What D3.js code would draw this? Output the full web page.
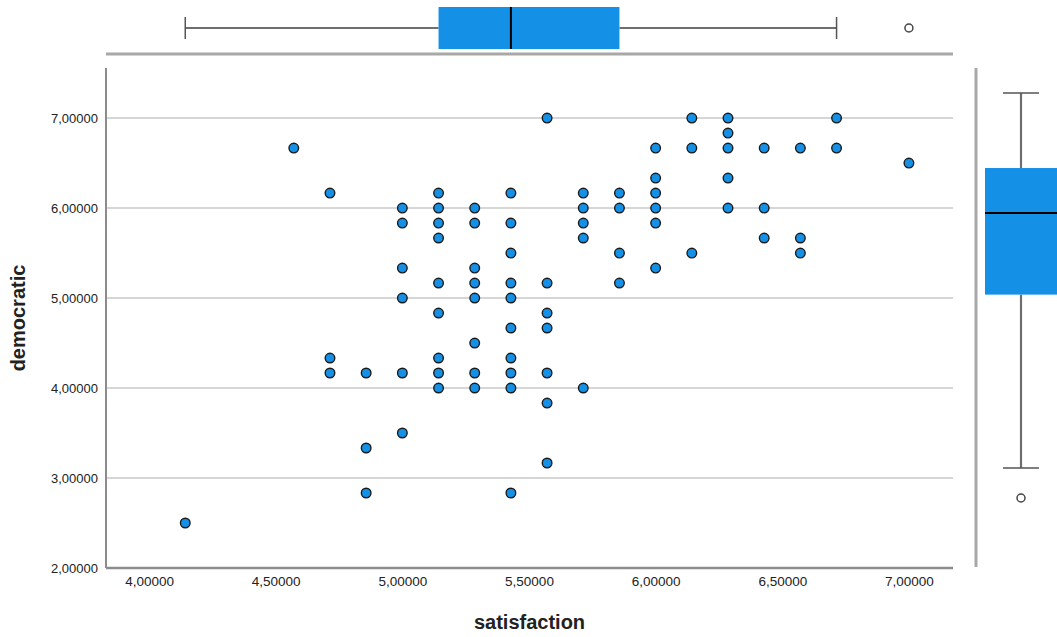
<!DOCTYPE html>
<html>
<head>
<meta charset="utf-8">
<script src="https://cdn.jsdelivr.net/npm/d3@7"></script>
<style>
  html, body { margin: 0; padding: 0; background: #fff; }
  svg { display: block; }
  text { font-family: "Liberation Sans", Arial, sans-serif; }
</style>
</head>
<body>
<svg id="chart" width="1057" height="637"></svg>
<script>
// ---- data ----
const satisfaction = [
  4.1429,
  4.5714,
  4.7143, 4.7143, 4.7143,
  4.8571, 4.8571, 4.8571,
  5.0, 5.0, 5.0, 5.0, 5.0, 5.0,
  5.1429, 5.1429, 5.1429, 5.1429, 5.1429, 5.1429, 5.1429, 5.1429, 5.1429,
  5.2857, 5.2857, 5.2857, 5.2857, 5.2857, 5.2857, 5.2857, 5.2857,
  5.4286, 5.4286, 5.4286, 5.4286, 5.4286, 5.4286, 5.4286, 5.4286, 5.4286, 5.4286,
  5.5714, 5.5714, 5.5714, 5.5714, 5.5714, 5.5714, 5.5714,
  5.7143, 5.7143, 5.7143, 5.7143, 5.7143,
  5.8571, 5.8571, 5.8571, 5.8571,
  6.0, 6.0, 6.0, 6.0, 6.0, 6.0,
  6.1429, 6.1429, 6.1429,
  6.2857, 6.2857, 6.2857, 6.2857, 6.2857,
  6.4286, 6.4286, 6.4286,
  6.5714, 6.5714, 6.5714,
  6.7143, 6.7143,
  7.0
];
const democratic = [
  2.5,
  6.6667,
  6.1667, 4.3333, 4.1667,
  4.1667, 3.3333, 2.8333,
  6.0, 5.8333, 5.3333, 5.0, 4.1667, 3.5,
  6.1667, 6.0, 5.8333, 5.6667, 5.1667, 4.8333, 4.3333, 4.1667, 4.0,
  6.0, 5.8333, 5.3333, 5.1667, 5.0, 4.5, 4.1667, 4.0,
  6.1667, 5.8333, 5.5, 5.1667, 5.0, 4.6667, 4.3333, 4.1667, 4.0, 2.8333,
  7.0, 5.1667, 4.8333, 4.6667, 4.1667, 3.8333, 3.1667,
  6.1667, 6.0, 5.8333, 5.6667, 4.0,
  6.1667, 6.0, 5.5, 5.1667,
  6.6667, 6.3333, 6.1667, 6.0, 5.8333, 5.3333,
  7.0, 6.6667, 5.5,
  7.0, 6.8333, 6.6667, 6.3333, 6.0,
  6.6667, 6.0, 5.6667,
  6.6667, 5.6667, 5.5,
  7.0, 6.6667,
  6.5
];
const xTicks = [4.0, 4.5, 5.0, 5.5, 6.0, 6.5, 7.0];
const yTicks = [2.0, 3.0, 4.0, 5.0, 6.0, 7.0];
// box plot summaries [min whisker, Q1, median, Q3, max whisker]
const satisfactionBox = [4.1429, 5.1429, 5.4286, 5.8571, 6.7143];
const satisfactionOutliers = [7.0];
const democraticBox = [2.8333, 4.76, 5.6667, 6.1667, 7.0];
const democraticOutliers = [2.5];
const xTitle = "satisfaction";
const yTitle = "democratic";

// ---- drawing ----
(function () {
const svg = d3.select("#chart");
const fmt = v => d3.format(".5f")(v).replace(".", ",");

const pL = 106, pR = 953, pT = 68, pB = 568;
const x = d3.scaleLinear().domain([3.83, 7.174]).range([pL, pR]);
const y = d3.scaleLinear().domain([2, 7.556]).range([pB, pT]);
const yR = d3.scaleLinear().domain([2, 7.556]).range([pB - 25, pT - 25]);

const blue = "#1490e6";
const gridColor = "#c8c8c8";
const axisColor = "#8c8c8c";

// gridlines
svg.append("g").selectAll("line")
  .data(yTicks.filter(d => d > 2))
  .join("line")
  .attr("x1", pL).attr("x2", pR)
  .attr("y1", d => y(d)).attr("y2", d => y(d))
  .attr("stroke", gridColor).attr("stroke-width", 1.5);

// y axis
const yAxis = d3.axisLeft(y).tickValues(yTicks).tickFormat(fmt).tickSize(0).tickPadding(8);
const gy = svg.append("g").attr("transform", `translate(${pL},0)`).call(yAxis);
gy.select(".domain").attr("stroke", axisColor).attr("stroke-width", 2)
  .attr("d", `M0,${pT}V${pB}`);
gy.selectAll("text").attr("font-size", 13).attr("fill", "#222")
  .attr("font-family", "'Liberation Sans', Arial, sans-serif");

// x axis
const xAxis = d3.axisBottom(x).tickValues(xTicks).tickFormat(fmt).tickSize(0).tickPadding(8);
const gx = svg.append("g").attr("transform", `translate(0,${pB})`).call(xAxis);
gx.select(".domain").attr("stroke", axisColor).attr("stroke-width", 2.5)
  .attr("d", `M${pL},0H${pR}`);
gx.selectAll("text").attr("font-size", 13.5).attr("fill", "#222")
  .attr("font-family", "'Liberation Sans', Arial, sans-serif");

// axis titles
svg.append("text")
  .attr("x", (pL + pR) / 2).attr("y", 629)
  .attr("text-anchor", "middle")
  .attr("font-size", 20).attr("font-weight", "bold").attr("fill", "#222")
  .text(xTitle);
svg.append("text")
  .attr("transform", `translate(25,${(pT + pB) / 2}) rotate(-90)`)
  .attr("text-anchor", "middle")
  .attr("font-size", 20).attr("font-weight", "bold").attr("fill", "#222")
  .text(yTitle);

// points
svg.append("g").selectAll("circle")
  .data(satisfaction.map((s, i) => [s, democratic[i]]))
  .join("circle")
  .attr("cx", d => x(d[0])).attr("cy", d => y(d[1]))
  .attr("r", 4.8)
  .attr("fill", blue).attr("stroke", "#1b1b1b").attr("stroke-width", 1.4);

// ---- top box plot (satisfaction) ----
const topG = svg.append("g");
const cy = 28, bh = 21, capH = 11;
const whisk = "#6e6e6e";
topG.append("line").attr("x1", pL).attr("x2", pR).attr("y1", 54).attr("y2", 54)
  .attr("stroke", "#a8a8a8").attr("stroke-width", 3);
topG.append("line").attr("x1", x(satisfactionBox[0])).attr("x2", x(satisfactionBox[1]))
  .attr("y1", cy).attr("y2", cy).attr("stroke", whisk).attr("stroke-width", 2.2);
topG.append("line").attr("x1", x(satisfactionBox[3])).attr("x2", x(satisfactionBox[4]))
  .attr("y1", cy).attr("y2", cy).attr("stroke", whisk).attr("stroke-width", 2.2);
[satisfactionBox[0], satisfactionBox[4]].forEach(v => {
  topG.append("line").attr("x1", x(v)).attr("x2", x(v))
    .attr("y1", cy - capH).attr("y2", cy + capH).attr("stroke", "#555").attr("stroke-width", 1.5);
});
topG.append("rect")
  .attr("x", x(satisfactionBox[1])).attr("y", cy - bh)
  .attr("width", x(satisfactionBox[3]) - x(satisfactionBox[1])).attr("height", 2 * bh)
  .attr("fill", blue);
topG.append("line").attr("x1", x(satisfactionBox[2])).attr("x2", x(satisfactionBox[2]))
  .attr("y1", cy - bh).attr("y2", cy + bh).attr("stroke", "#000").attr("stroke-width", 2);
topG.selectAll("circle.out").data(satisfactionOutliers).join("circle")
  .attr("cx", d => x(d)).attr("cy", cy).attr("r", 4)
  .attr("fill", "#fff").attr("stroke", "#444").attr("stroke-width", 1.5);

// ---- right box plot (democratic) ----
const rG = svg.append("g");
const cx = 1021, bw = 36, capW = 18;
rG.append("line").attr("x1", 976).attr("x2", 976).attr("y1", pT).attr("y2", pB - 1)
  .attr("stroke", "#a8a8a8").attr("stroke-width", 3);
rG.append("line").attr("x1", cx).attr("x2", cx)
  .attr("y1", yR(democraticBox[4])).attr("y2", yR(democraticBox[3]))
  .attr("stroke", whisk).attr("stroke-width", 2.2);
rG.append("line").attr("x1", cx).attr("x2", cx)
  .attr("y1", yR(democraticBox[1])).attr("y2", yR(democraticBox[0]))
  .attr("stroke", whisk).attr("stroke-width", 2.2);
[democraticBox[0], democraticBox[4]].forEach(v => {
  rG.append("line").attr("x1", cx - capW).attr("x2", cx + capW)
    .attr("y1", yR(v)).attr("y2", yR(v)).attr("stroke", "#555").attr("stroke-width", 1.5);
});
rG.append("rect")
  .attr("x", cx - bw).attr("y", yR(democraticBox[3]))
  .attr("width", 2 * bw).attr("height", yR(democraticBox[1]) - yR(democraticBox[3]))
  .attr("fill", blue);
rG.append("line").attr("x1", cx - bw).attr("x2", cx + bw)
  .attr("y1", yR(democraticBox[2])).attr("y2", yR(democraticBox[2]))
  .attr("stroke", "#000").attr("stroke-width", 2);
rG.selectAll("circle.out").data(democraticOutliers).join("circle")
  .attr("cx", cx).attr("cy", d => yR(d)).attr("r", 4)
  .attr("fill", "#fff").attr("stroke", "#444").attr("stroke-width", 1.5);
})();
</script>
</body>
</html>
